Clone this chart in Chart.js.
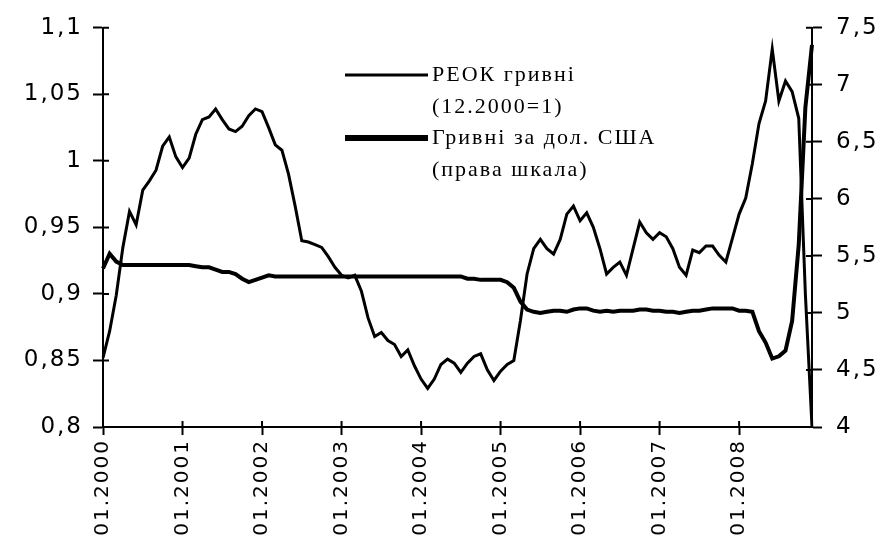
<!DOCTYPE html>
<html>
<head>
<meta charset="utf-8">
<script src="https://cdn.jsdelivr.net/npm/chart.js@4/dist/chart.umd.min.js"></script>
<style>
  body { margin: 0; background: #fff; }
</style>
</head>
<body>
<canvas id="myChart" width="890" height="548"></canvas>
<script>
const years = ['2000', '2001', '2002', '2003', '2004', '2005', '2006', '2007', '2008'];
const months = ['01', '02', '03', '04', '05', '06', '07', '08', '09', '10', '11', '12'];

const labels = [];
years.forEach(y => months.forEach(m => labels.push(m + '.' + y)));

// РЕОК гривні (12.2000=1), left scale
const reer = [
  0.852, 0.872, 0.899, 0.935, 0.962, 0.952, 0.978, 0.985, 0.993, 1.011, 1.018, 1.003,
  0.995, 1.002, 1.020, 1.031, 1.033, 1.039, 1.031, 1.024, 1.022, 1.026, 1.034, 1.039,
  1.037, 1.025, 1.012, 1.008, 0.990, 0.966, 0.940, 0.939, 0.937, 0.935, 0.928, 0.920,
  0.914, 0.912, 0.914, 0.902, 0.882, 0.868, 0.871, 0.865, 0.862, 0.853, 0.858, 0.846,
  0.836, 0.829, 0.836, 0.847, 0.851, 0.848, 0.841, 0.848, 0.853, 0.855, 0.843, 0.835,
  0.842, 0.847, 0.850, 0.880, 0.915, 0.934, 0.941, 0.934, 0.930, 0.941, 0.960, 0.966,
  0.955, 0.961, 0.950, 0.934, 0.915, 0.920, 0.924, 0.914, 0.934, 0.954, 0.946, 0.941,
  0.946, 0.943, 0.934, 0.920, 0.914, 0.933, 0.931, 0.936, 0.936, 0.929, 0.924, 0.942,
  0.960, 0.972, 0.998, 1.028, 1.045, 1.084, 1.045, 1.060, 1.052, 1.032, 0.900, 0.800
];

// Гривні за дол. США, right scale
const uahUsd = [
  5.39, 5.52, 5.45, 5.42, 5.42, 5.42, 5.42, 5.42, 5.42, 5.42, 5.42, 5.42,
  5.42, 5.42, 5.41, 5.40, 5.40, 5.38, 5.36, 5.36, 5.34, 5.30, 5.27, 5.29,
  5.31, 5.33, 5.32, 5.32, 5.32, 5.32, 5.32, 5.32, 5.32, 5.32, 5.32, 5.32,
  5.32, 5.32, 5.32, 5.32, 5.32, 5.32, 5.32, 5.32, 5.32, 5.32, 5.32, 5.32,
  5.32, 5.32, 5.32, 5.32, 5.32, 5.32, 5.32, 5.30, 5.30, 5.29, 5.29, 5.29,
  5.29, 5.27, 5.22, 5.10, 5.03, 5.01, 5.00, 5.01, 5.02, 5.02, 5.01, 5.03,
  5.04, 5.04, 5.02, 5.01, 5.02, 5.01, 5.02, 5.02, 5.02, 5.03, 5.03, 5.02,
  5.02, 5.01, 5.01, 5.00, 5.01, 5.02, 5.02, 5.03, 5.04, 5.04, 5.04, 5.04,
  5.02, 5.02, 5.01, 4.84, 4.74, 4.60, 4.62, 4.67, 4.93, 5.60, 6.80, 7.35
];

const legendLines = [
  { text: ['РЕОК гривні', '(12.2000=1)'], width: 3 },
  { text: ['Гривні за дол. США', '(права шкала)'], width: 6 }
];

function comma(v) {
  return String(Number(v.toFixed(2))).replace('.', ',');
}

const spacing = {
  id: 'spacing',
  beforeUpdate(chart) { chart.ctx.letterSpacing = '2px'; },
  beforeDraw(chart) { chart.ctx.letterSpacing = '2px'; }
};

// short tick stubs on the inner side of each axis, like the original
const innerTicks = {
  id: 'innerTicks',
  afterDatasetsDraw(chart) {
    const ctx = chart.ctx;
    const a = chart.chartArea;
    const s = chart.scales;
    ctx.save();
    ctx.strokeStyle = '#000';
    ctx.lineWidth = 2;
    ctx.beginPath();
    s.y.ticks.forEach(t => {
      const p = s.y.getPixelForValue(t.value);
      ctx.moveTo(a.left, p); ctx.lineTo(a.left + 6, p);
    });
    s.y1.ticks.forEach(t => {
      const p = s.y1.getPixelForValue(t.value);
      ctx.moveTo(a.right, p); ctx.lineTo(a.right - 6, p);
    });
    s.x.ticks.forEach((t, i) => {
      if (i % 12 !== 0) return;
      const p = s.x.getPixelForTick(i);
      ctx.moveTo(p, a.bottom); ctx.lineTo(p, a.bottom - 6);
    });
    ctx.stroke();
    ctx.restore();
  }
};

const legendBox = {
  id: 'legendBox',
  afterDraw(chart) {
    const ctx = chart.ctx;
    ctx.save();
    ctx.fillStyle = '#000';
    ctx.strokeStyle = '#000';
    ctx.font = '22px "Liberation Serif"';
    ctx.textBaseline = 'middle';
    let y = 75;
    legendLines.forEach(item => {
      ctx.lineWidth = item.width;
      ctx.beginPath();
      ctx.moveTo(345, y);
      ctx.lineTo(428, y);
      ctx.stroke();
      item.text.forEach((t, i) => ctx.fillText(t, 432, y + i * 32));
      y += 63;
    });
    ctx.restore();
  }
};

const data = {
  labels: labels,
  datasets: [{
    label: 'РЕОК гривні (12.2000=1)',
    data: reer,
    borderColor: '#000',
    borderWidth: 3,
    pointRadius: 0,
    tension: 0,
    yAxisID: 'y'
  }, {
    label: 'Гривні за дол. США (права шкала)',
    data: uahUsd,
    borderColor: '#000',
    borderWidth: 4,
    pointRadius: 0,
    tension: 0,
    yAxisID: 'y1'
  }]
};

const config = {
  type: 'line',
  data: data,
  options: {
    responsive: false,
    animation: false,
    layout: { padding: { top: 23 } },
    plugins: {
      legend: { display: false },
      tooltip: { enabled: false }
    },
    scales: {
      x: {
        afterFit(scale) { scale.height = 121; },
        border: { display: true, color: '#000', width: 2 },
        grid: {
          drawOnChartArea: false,
          tickLength: 8,
          tickWidth: 2,
          color: ctx => (ctx.index % 12 === 0 ? '#000' : 'rgba(0,0,0,0)')
        },
        ticks: {
          autoSkip: false,
          minRotation: 90,
          maxRotation: 90,
          padding: 4,
          color: '#000',
          font: { family: 'DejaVu Sans', size: 20 },
          callback: (v, i) => (i % 12 === 0 ? labels[i] : '')
        }
      },
      y: {
        position: 'left',
        min: 0.8,
        max: 1.1,
        afterFit(scale) { scale.width = 103; },
        border: { display: true, color: '#000', width: 2 },
        grid: { drawOnChartArea: false, tickLength: 10, tickWidth: 2, color: '#000' },
        ticks: {
          stepSize: 0.05,
          padding: 10,
          color: '#000',
          font: { family: 'DejaVu Sans', size: 23 },
          callback: v => comma(v)
        }
      },
      y1: {
        position: 'right',
        min: 4,
        max: 7.5,
        afterFit(scale) { scale.width = 78; },
        border: { display: true, color: '#000', width: 2 },
        grid: { drawOnChartArea: false, tickLength: 10, tickWidth: 2, color: '#000' },
        ticks: {
          stepSize: 0.5,
          padding: 14,
          color: '#000',
          font: { family: 'DejaVu Sans', size: 23 },
          callback: v => comma(v)
        }
      }
    }
  },
  plugins: [spacing, innerTicks, legendBox]
};

myChart = new Chart(
  document.getElementById('myChart'),
  config
);
</script>
</body>
</html>
